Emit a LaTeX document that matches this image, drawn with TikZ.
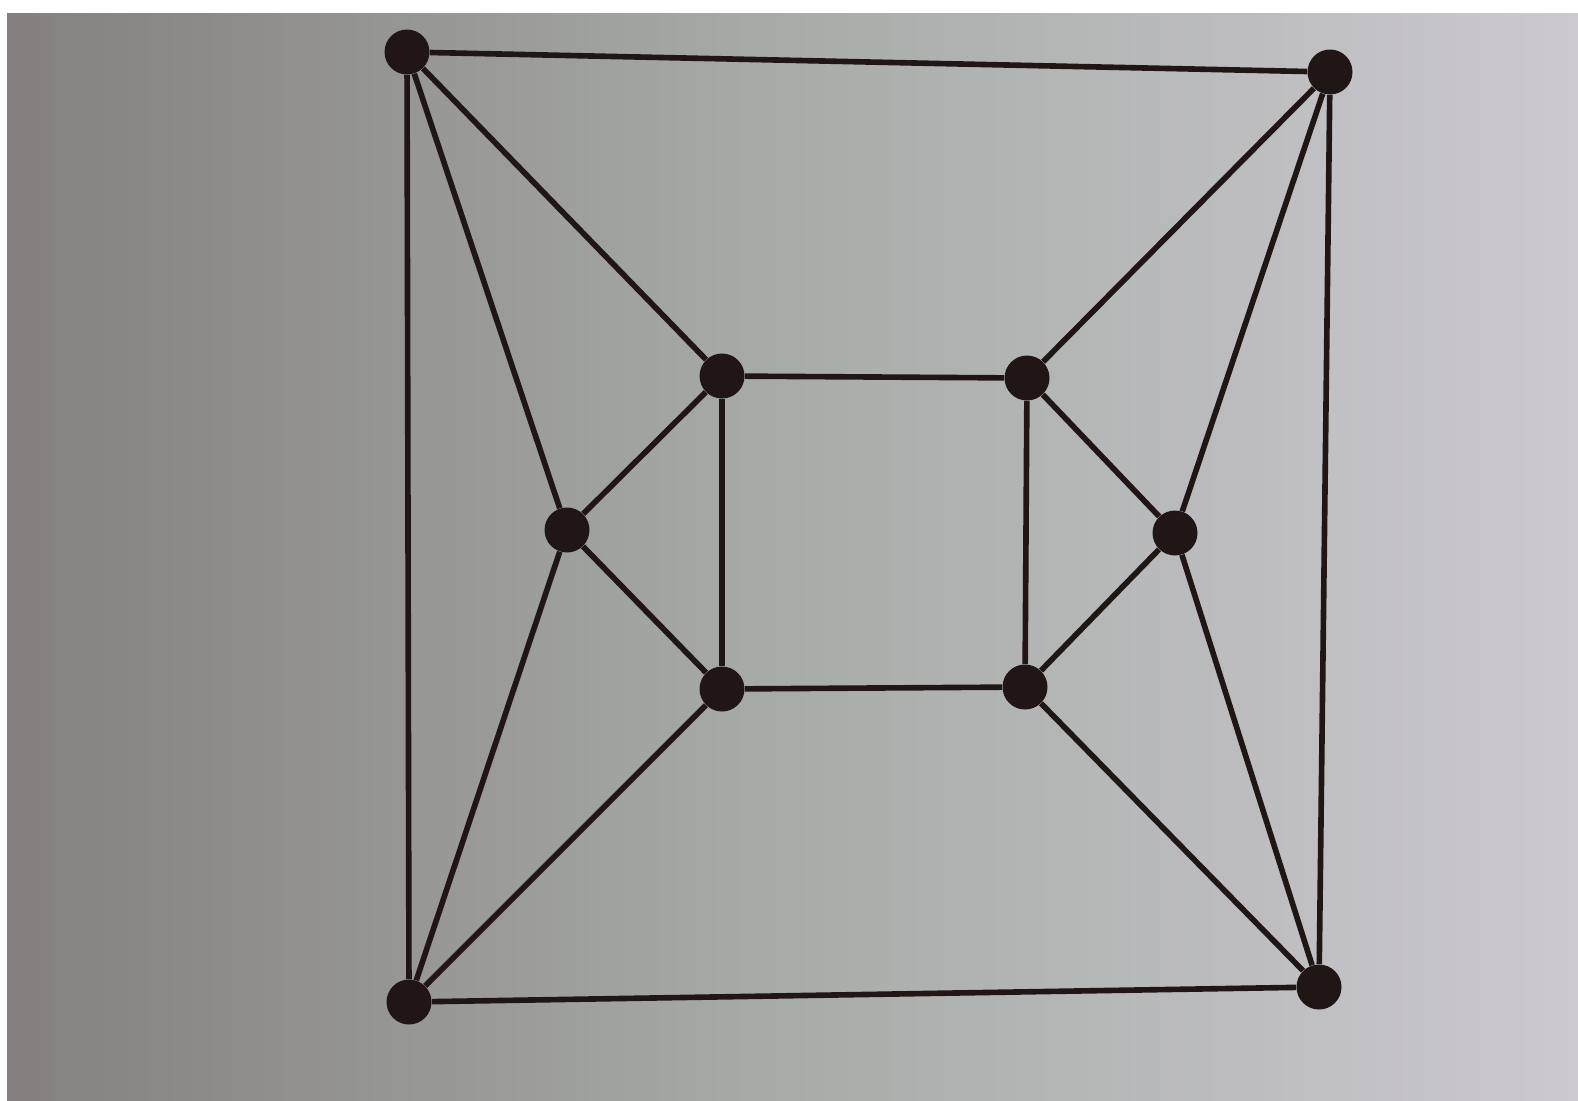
\documentclass[tikz,border=0pt]{standalone}
\usepackage{tikz}
\usetikzlibrary{calc}
\definecolor{paperl}{RGB}{132,128,128}
\definecolor{paperm}{RGB}{168,172,168}
\definecolor{paperr}{RGB}{204,201,208}
\definecolor{ink}{RGB}{32,22,22}

\begin{document}
\begin{tikzpicture}[
  x=0.02cm,y=-0.02cm,
  vtx/.style={circle,fill=ink,draw=none,minimum size=0.9cm,inner sep=0pt},
  edge/.style={draw=ink,line width=3.2pt},
]
% paper
\fill[white] (0,0) rectangle (1578,1100);
\shade[left color=paperl,right color=paperr,middle color=paperm]
  (7,13) rectangle (1578,1100);
\useasboundingbox (0,0) rectangle (1578,1100);

% outer corners
\node[vtx] (otl) at (407,52) {};
\node[vtx] (otr) at (1330,72) {};
\node[vtx] (obl) at (409,1002) {};
\node[vtx] (obr) at (1319,987) {};
% inner square
\node[vtx] (itl) at (722,376) {};
\node[vtx] (itr) at (1027,378) {};
\node[vtx] (ibl) at (722,689) {};
\node[vtx] (ibr) at (1025,687) {};
% side vertices
\node[vtx] (lm) at (567,530) {};
\node[vtx] (rm) at (1175,533) {};

% outer square
\draw[edge] (otl) -- (otr);
\draw[edge] (otr) -- (obr);
\draw[edge] (obr) -- (obl);
\draw[edge] (obl) -- (otl);

% spokes from the corners
\draw[edge] (otl) -- (itl);
\draw[edge] (otl) -- (lm);
\draw[edge] (otr) -- (itr);
\draw[edge] (otr) -- (rm);
\draw[edge] (obl) -- (lm);
\draw[edge] (obl) -- (ibl);
\draw[edge] (obr) -- (rm);
\draw[edge] (obr) -- (ibr);

% inner square
\draw[edge] (itl) -- (itr);
\draw[edge] (itr) -- (ibr);
\draw[edge] (ibr) -- (ibl);
\draw[edge] (ibl) -- (itl);

% side vertices to inner square
\draw[edge] (lm) -- (itl);
\draw[edge] (lm) -- (ibl);
\draw[edge] (rm) -- (itr);
\draw[edge] (rm) -- (ibr);
\end{tikzpicture}
\end{document}
